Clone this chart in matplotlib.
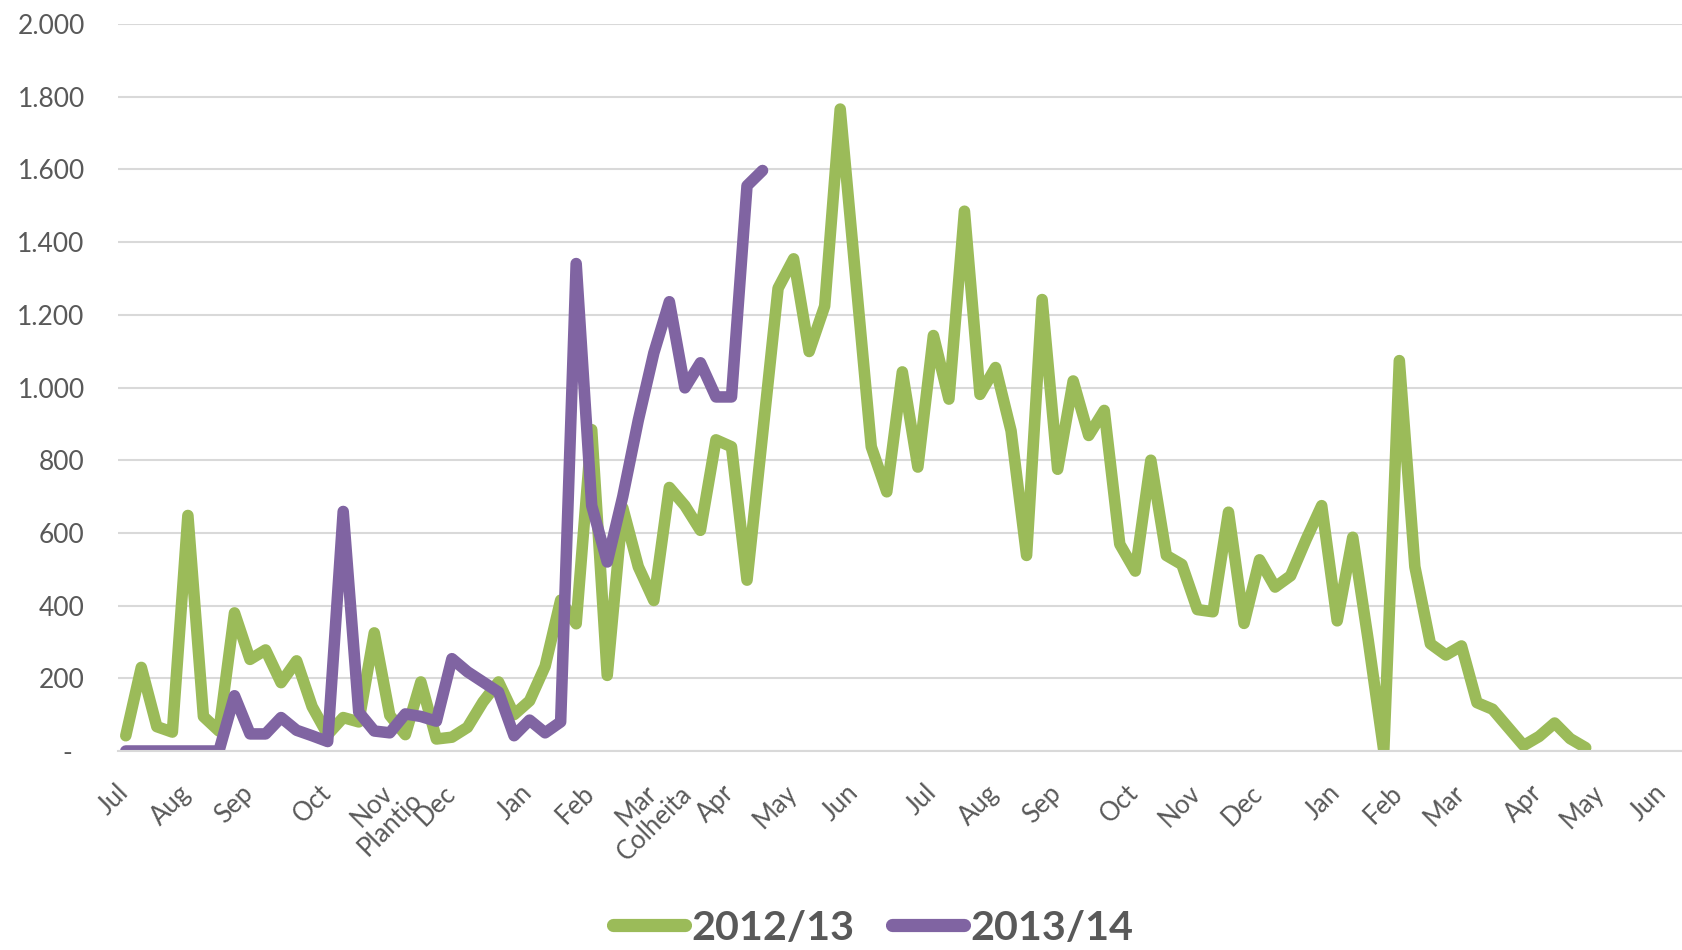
import matplotlib
matplotlib.use('Agg')
import matplotlib.pyplot as plt
import matplotlib.transforms as mtransforms
import numpy as np

# weekly values, 2012/13 season (continues into the next year) and 2013/14
safra_2012_13 = [42, 230, 67, 52, 648, 95, 55, 380, 252, 278,
                 188, 248, 122, 45, 92, 80, 325, 98, 45, 190,
                 33, 38, 65, 135, 190, 100, 138, 233, 415, 350,
                 884, 208, 669, 507, 414, 725, 675, 607, 856, 837,
                 470, 870, 1273, 1354, 1099, 1224, 1766, 1300, 837, 713,
                 1043, 781, 1143, 968, 1485, 981, 1055, 881, 538, 1242,
                 775, 1018, 868, 937, 569, 495, 800, 538, 513, 389,
                 383, 657, 351, 526, 451, 482, 582, 675, 358, 588,
                 304, 0, 1074, 507, 295, 264, 289, 133, 115, 65,
                 15, 40, 77, 34, 9]
safra_2013_14 = [0, 0, 0, 0, 0, 0, 0, 152, 47, 47,
                 92, 57, 42, 26, 659, 107, 55, 50, 102, 95,
                 82, 254, 218, 190, 162, 42, 85, 50, 80, 1341,
                 675, 520, 700, 910, 1095, 1236, 999, 1068, 974, 974,
                 1555, 1597]

# category axis: one slot per week, month name on the first week of the month
month_names = ['Jul', 'Aug', 'Sep', 'Oct', 'Nov', 'Dec',
               'Jan', 'Feb', 'Mar', 'Apr', 'May', 'Jun'] * 2
month_weeks = [0, 4, 8, 13, 17, 21, 26, 30, 34, 39, 43, 47,
               52, 56, 60, 65, 69, 73, 78, 82, 86, 91, 95, 99]
second_line = {17: 'Plantio', 34: 'Colheita'}

y_ticks = list(range(0, 2001, 200))

GREEN = '#9BBB59'
PURPLE = '#8064A2'
GRID = '#D9D9D9'
TEXT = '#595959'


def fmt(v):
    return '-' if v == 0 else '{:,}'.format(v).replace(',', '.')


def main():
    plt.rcParams['font.family'] = ['Lato', 'DejaVu Sans']
    fig = plt.figure(figsize=(16.82, 9.5), dpi=100)
    ax = fig.add_axes([118 / 1682, 199 / 950, 1564 / 1682, 727 / 950])

    kw = dict(lw=8.3, solid_capstyle='round', solid_joinstyle='round')
    ax.plot(np.arange(len(safra_2012_13)), safra_2012_13, color=GREEN,
            label='2012/13', **kw)
    ax.plot(np.arange(len(safra_2013_14)), safra_2013_14, color=PURPLE,
            label='2013/14', **kw)

    ax.set_xlim(-0.5, 100.2)
    ax.set_ylim(0, 2000)
    ax.set_yticks(y_ticks)
    ax.set_yticklabels([fmt(v) for v in y_ticks])
    ax.grid(axis='y', color=GRID, lw=1.5)
    ax.set_axisbelow(True)
    for s in ['top', 'right', 'left']:
        ax.spines[s].set_visible(False)
    ax.spines['bottom'].set_color(GRID)
    ax.spines['bottom'].set_linewidth(1.5)
    ax.tick_params(axis='y', length=0, pad=24, labelsize=19, labelcolor=TEXT)
    ax.tick_params(axis='x', length=0, pad=21, labelsize=18.5, labelcolor=TEXT)

    ax.set_xticks(month_weeks)
    ax.set_xticklabels(month_names, rotation=45, ha='right', va='top')
    shift = mtransforms.ScaledTranslation(8 / 100, 0, fig.dpi_scale_trans)
    for lab in ax.get_xticklabels():
        lab.set_transform(lab.get_transform() + shift)
    zero = ax.get_yticklabels()[0]
    zero.set_transform(zero.get_transform() +
                       mtransforms.ScaledTranslation(-13 / 100, 0, fig.dpi_scale_trans))

    fig.canvas.draw()
    r = fig.canvas.get_renderer()
    labs = ax.get_xticklabels()
    step = 26  # line spacing in px
    for wk, txt in second_line.items():
        lab = labs[month_weeks.index(wk)]
        bb = lab.get_window_extent(r)
        cx = (bb.x0 + bb.x1) / 2 + step * 0.707
        cy = (bb.y0 + bb.y1) / 2 - step * 0.707
        fx, fy = fig.transFigure.inverted().transform((cx, cy))
        fig.text(fx, fy, txt, rotation=45, rotation_mode='anchor',
                 ha='center', va='center', fontsize=18.5, color=TEXT)

    leg = fig.legend(loc='center', bbox_to_anchor=(0.519, 0.023), ncol=2,
                     frameon=False, handlelength=1.75, handletextpad=0.15,
                     columnspacing=0.9,
                     prop={'family': ['Lato', 'DejaVu Sans'],
                           'weight': 'bold', 'size': 29.7})
    for t in leg.get_texts():
        t.set_color(TEXT)
    for h in leg.legend_handles:
        h.set_linewidth(9.5)

    fig.savefig('out.png', dpi=100)


if __name__ == '__main__':
    main()
